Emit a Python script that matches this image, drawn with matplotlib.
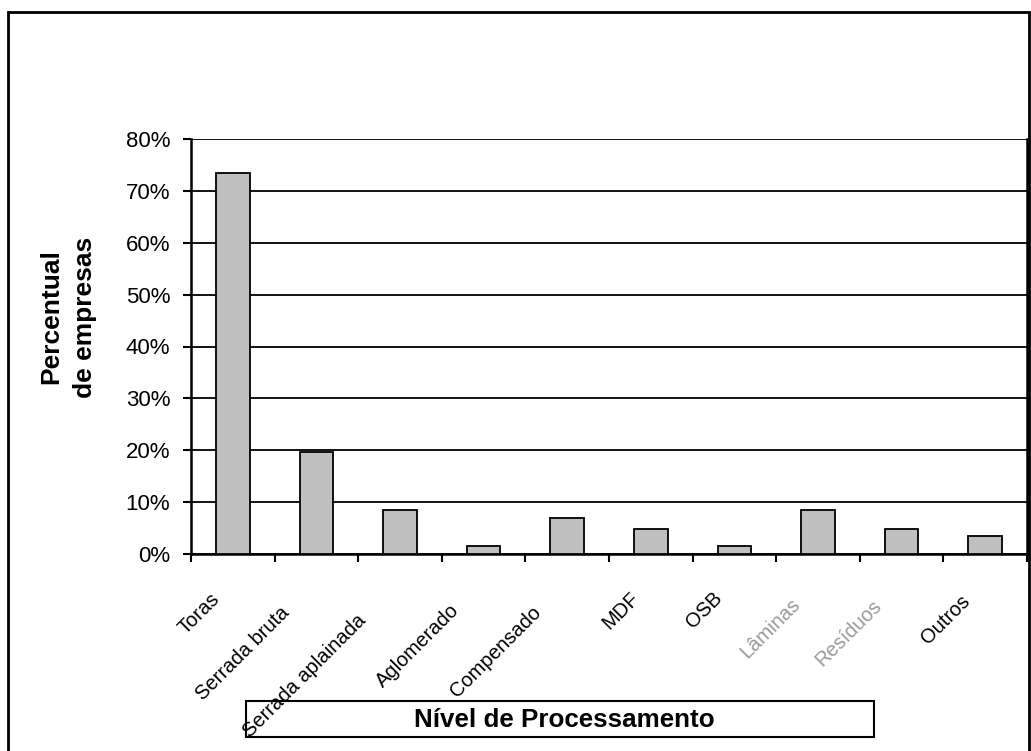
import matplotlib
matplotlib.use("Agg")
import matplotlib.pyplot as plt
import numpy as np
from matplotlib.patches import Rectangle
from matplotlib.ticker import PercentFormatter, FixedLocator
from matplotlib.transforms import ScaledTranslation

plt.rcParams["font.family"] = ["Liberation Sans", "DejaVu Sans"]

# share of companies (%) by processing level
categorias = ["Toras", "Serrada bruta", "Serrada aplainada", "Aglomerado",
              "Compensado", "MDF", "OSB", "Lâminas", "Resíduos", "Outros"]
percentual = [73.5, 19.6, 8.5, 1.5, 6.9, 4.9, 1.5, 8.5, 4.9, 3.4]
rotulos_claros = {"Lâminas", "Resíduos"}  # these labels print faded

DPI = 100
fig = plt.figure(figsize=(10.31, 7.51), dpi=DPI)
W, H = 1031, 751

# outer chart frame
fig.patches.append(Rectangle((8 / W, -0.02), (1029 - 8) / W, 1.02 - 12 / H,
                             transform=fig.transFigure, fill=False,
                             edgecolor="black", linewidth=2.0, zorder=0.2))

ax = fig.add_axes([191 / W, 1 - 554 / H, (1027 - 191) / W, (554 - 139) / H])
ax.set_zorder(1)
x = np.arange(len(categorias))
ax.bar(x, percentual, width=0.4, color="#c0c0c0", edgecolor="black",
       linewidth=1.3, zorder=3)

ax.set_xlim(-0.5, len(categorias) - 0.5)
ax.set_ylim(0, 80)
ax.yaxis.set_major_locator(FixedLocator(np.arange(0, 81, 10)))
ax.yaxis.set_major_formatter(PercentFormatter(xmax=100, decimals=0))
ax.grid(axis="y", color="black", linewidth=1.3, zorder=1)
ax.set_xticks(np.arange(-0.5, len(categorias), 1.0))
ax.set_xticklabels([])
ax.tick_params(axis="both", direction="out", length=6, width=1.5,
               color="black")
ax.tick_params(axis="y", labelsize=16, pad=9)
for side in ("left", "bottom", "right"):
    ax.spines[side].set_linewidth(1.8)
ax.spines["top"].set_visible(False)

# rotated category labels, ending just below each bar;
# longer names slide further down along their own direction
renderer = fig.canvas.get_renderer()
base = ax.get_xaxis_transform()
for i, nome in enumerate(categorias):
    cor = "#9a9a9a" if nome in rotulos_claros else "black"
    t = ax.text(i, 0, nome, fontsize=14.5, color=cor, ha="right",
                va="center", rotation_mode="anchor")
    t.set_transform(base)
    w = t.get_window_extent(renderer).width
    dx = -7 - 0.184 * w
    dy = 33 + 0.184 * w
    t.set_rotation(45)
    t.set_transform(base + ScaledTranslation(dx / DPI, -dy / DPI,
                                             fig.dpi_scale_trans))

# y axis title
fig.text(68 / W, 1 - 317 / H, "Percentual\nde empresas", rotation=90,
         ha="center", va="center", fontsize=19, fontweight="bold",
         linespacing=1.5)

# x axis title in its own box
fig.patches.append(Rectangle((246 / W, 1 - 737 / H), (874 - 246) / W,
                             36 / H, transform=fig.transFigure,
                             facecolor="white", edgecolor="black",
                             linewidth=1.5, zorder=0.5))
fig.text(564 / W, 1 - 720 / H, "Nível de Processamento", ha="center",
         va="center", fontsize=18.7, fontweight="bold", zorder=6)

fig.savefig("out.png", dpi=DPI)
